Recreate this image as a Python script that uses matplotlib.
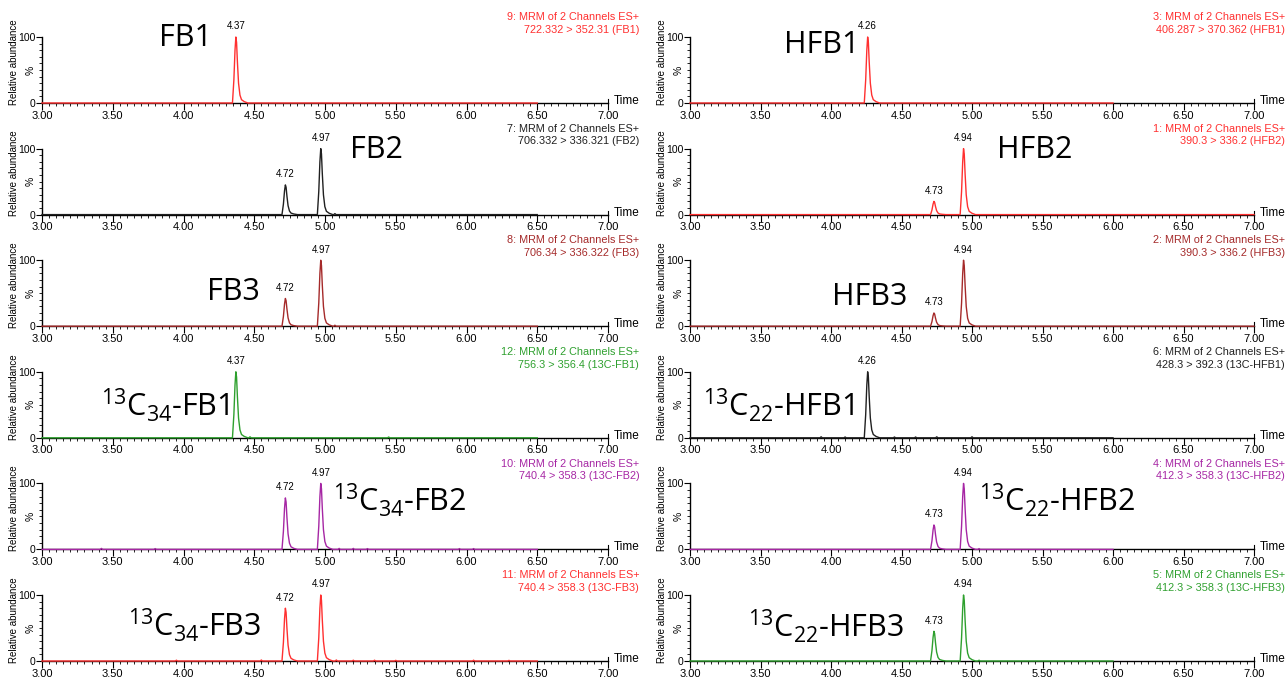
import matplotlib
matplotlib.use('Agg')
import matplotlib.pyplot as plt
from matplotlib.ticker import MultipleLocator

# peak shape: offset from apex (min) and fraction of apex height
peak_offsets = [-0.024, -0.014, -0.006, 0.0, 0.005, 0.011, 0.019, 0.029, 0.040, 0.060, 0.085]
peak_profile = [0.0, 0.35, 0.80, 1.0, 0.92, 0.62, 0.30, 0.12, 0.05, 0.02, 0.0]

# left column (FB)
left_labels = [r'FB1', r'FB2', r'FB3',
               r'$\mathregular{^{13}C_{34}}$-FB1', r'$\mathregular{^{13}C_{34}}$-FB2',
               r'$\mathregular{^{13}C_{34}}$-FB3']
left_channels = ['9', '7', '8', '12', '10', '11']
left_transitions = ['722.332 > 352.31 (FB1)', '706.332 > 336.321 (FB2)',
                    '706.34 > 336.322 (FB3)', '756.3 > 356.4 (13C-FB1)',
                    '740.4 > 358.3 (13C-FB2)', '740.4 > 358.3 (13C-FB3)']
left_rt = [[4.37], [4.72, 4.97], [4.72, 4.97], [4.37], [4.72, 4.97], [4.72, 4.97]]
left_height = [[100], [45, 100], [42, 100], [100], [78, 100], [80, 100]]
left_noise = [[],
              [(5.07, 1.5)],
              [(5.07, 1.5)],
              [(4.47, 1.5), (5.45, 1.2)],
              [(3.42, 1.5), (3.80, 1.2), (5.10, 1.5), (5.20, 1.5), (5.30, 1.2),
               (5.95, 1.2), (6.05, 1.2)],
              [(3.95, 1.2), (4.55, 1.5), (5.08, 1.5), (5.20, 1.2), (5.35, 1.2),
               (5.50, 1.0), (6.05, 1.2), (6.30, 1.0)]]
left_end = [6.50, 6.50, 6.50, 6.50, 6.50, 6.50]
left_colors = ['#ff3030', '#202020', '#a52a2a', '#2ea02e', '#a626a4', '#ff3030']

# right column (HFB)
right_labels = [r'HFB1', r'HFB2', r'HFB3',
                r'$\mathregular{^{13}C_{22}}$-HFB1', r'$\mathregular{^{13}C_{22}}$-HFB2',
                r'$\mathregular{^{13}C_{22}}$-HFB3']
right_channels = ['3', '1', '2', '6', '4', '5']
right_transitions = ['406.287 > 370.362 (HFB1)', '390.3 > 336.2 (HFB2)',
                     '390.3 > 336.2 (HFB3)', '428.3 > 392.3 (13C-HFB1)',
                     '412.3 > 358.3 (13C-HFB2)', '412.3 > 358.3 (13C-HFB3)']
right_rt = [[4.26], [4.73, 4.94], [4.73, 4.94], [4.26], [4.73, 4.94], [4.73, 4.94]]
right_height = [[100], [20, 100], [20, 100], [100], [37, 100], [45, 100]]
right_noise = [[],
               [],
               [],
               [(3.93, 1.5), (4.10, 1.2), (4.45, 1.2), (4.60, 1.2), (4.75, 1.5),
                (5.00, 1.5)],
               [(5.05, 1.2)],
               [(5.05, 1.2)]]
right_end = [6.00, 7.00, 7.00, 6.00, 6.00, 6.00]
right_colors = ['#ff3030', '#ff3030', '#a52a2a', '#202020', '#a626a4', '#2ea02e']

# big label centres in pixels (x, y)
left_label_pos = [(185, 38), (376, 150), (233, 292), (165, 405), (400, 500), (195, 625)]
right_label_pos = [(822, 45), (1035, 150), (870, 297), (778, 405), (1057, 500), (826, 626)]

W, H = 1287, 679
fig = plt.figure(figsize=(W / 100, H / 100), dpi=100)
plt.rcParams['font.family'] = ['Liberation Sans', 'DejaVu Sans']


def build_trace(rts, heights, noise, end):
    pts = [(3.0, 0.0), (end, 0.0)]
    for rt, h in zip(rts, heights):
        for off, frac in zip(peak_offsets, peak_profile):
            pts.append((rt + off, h * frac))
    for t, h in noise:
        pts += [(t - 0.008, 0.0), (t, h), (t + 0.008, 0.0)]
    pts.sort()
    return [p[0] for p in pts], [p[1] for p in pts]


def draw_panel(x0, x1, row, label, chan, trans, rts, heights, noise, end, color, lab_pos):
    top = 37 + 111.6 * row
    bot = 103 + 111.6 * row
    ax = fig.add_axes([x0 / W, 1 - bot / H, (x1 - x0) / W, (bot - top) / H])
    xs, ys = build_trace(rts, heights, noise, end)
    ax.plot(xs, ys, color=color, lw=1.0, clip_on=False, zorder=5)
    ax.set_xlim(3.0, 7.0)
    ax.set_ylim(0, 100)
    for s in ['top', 'right']:
        ax.spines[s].set_visible(False)
    ax.spines['left'].set_linewidth(1.0)
    ax.spines['bottom'].set_linewidth(1.0)
    ax.xaxis.set_major_locator(MultipleLocator(0.5))
    ax.xaxis.set_minor_locator(MultipleLocator(0.05))
    ax.set_xticklabels(['%.2f' % v for v in ax.get_xticks()])
    ax.yaxis.set_major_locator(MultipleLocator(100))
    ax.yaxis.set_minor_locator(MultipleLocator(10))
    ax.tick_params(axis='x', which='major', length=5, width=0.8, labelsize=8, pad=0.5)
    ax.tick_params(axis='x', which='minor', length=2.5, width=0.6)
    ax.tick_params(axis='y', which='major', length=4, width=0.8, labelsize=7.5, pad=0.5)
    ax.tick_params(axis='y', which='minor', length=2, width=0.6)
    ax.text(-0.012, 0.5, '%', transform=ax.transAxes, rotation=90,
            ha='right', va='center', fontsize=7.5)
    ax.set_ylabel('Relative abundance', fontsize=7)
    ax.yaxis.set_label_coords(-0.041, 0.62)
    ax.text(1.01, 0.03, 'Time', transform=ax.transAxes, ha='left', va='center',
            fontsize=8.5)
    ax.plot([7.0, 7.0], [0, 6], color='black', lw=0.8, clip_on=False)
    ax.text(1.055, 1.30, chan + ': MRM of 2 Channels ES+', transform=ax.transAxes,
            ha='right', va='center', fontsize=7.8, color=color)
    ax.text(1.055, 1.11, trans, transform=ax.transAxes,
            ha='right', va='center', fontsize=7.8, color=color)
    for rt, h in zip(rts, heights):
        ax.annotate('%.2f' % rt, (rt, h), xytext=(0, 4), textcoords='offset points',
                    ha='center', va='bottom', fontsize=7)
    fig.text(lab_pos[0] / W, 1 - lab_pos[1] / H, label, ha='center', va='center',
             fontsize=22, family=['Open Sans', 'DejaVu Sans'])


for i in range(6):
    draw_panel(42, 608, i, left_labels[i], left_channels[i], left_transitions[i],
               left_rt[i], left_height[i], left_noise[i], left_end[i],
               left_colors[i], left_label_pos[i])
    draw_panel(690, 1254, i, right_labels[i], right_channels[i], right_transitions[i],
               right_rt[i], right_height[i], right_noise[i], right_end[i],
               right_colors[i], right_label_pos[i])

fig.savefig('out.png', dpi=100)
